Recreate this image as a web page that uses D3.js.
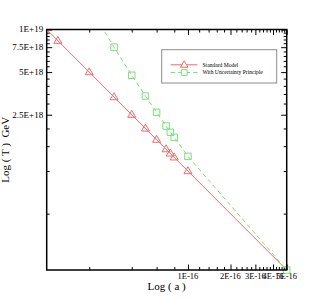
<!DOCTYPE html>
<html>
<head>
<meta charset="utf-8">
<script src="https://cdn.jsdelivr.net/npm/d3@7"></script>
<style>
html,body{margin:0;padding:0;background:#fff;}
svg{display:block;}
text{font-family:"Liberation Serif","DejaVu Serif",serif;fill:#000;}
</style>
</head>
<body>
<svg id="chart" width="322" height="299"></svg>
<script>
// ---- data ----
const xDomain = [1e-17, 5e-16];
const yDomain = [2e17, 1e19];

// Standard Model: fitted line endpoints and data points
const smLineA = [1e-17, 5e-16];
const smLineT = [1e19, 2e17];
const smA = [1.2e-17, 2e-17, 3e-17, 4e-17, 5e-17, 6e-17, 7e-17, 7.5e-17, 8e-17, 1e-16];
const smT = [8.33e18, 5e18, 3.33e18, 2.5e18, 2e18, 1.667e18, 1.429e18, 1.333e18, 1.25e18, 1e18];

// With Uncertainty Principle
const upA = [2e-17, 3e-17, 4e-17, 5e-17, 6e-17, 7e-17, 7.5e-17, 8e-17, 1e-16, 5e-16];
const upT = [1.46e19, 7.5e18, 4.75e18, 3.39e18, 2.6e18, 2.08e18, 1.88e18, 1.73e18, 1.27e18, 2e17];

const xMajorTicks = [1e-16, 2e-16, 3e-16, 4e-16, 5e-16];
const xTickLabels = ["1E-16", "2E-16", "3E-16", "4E-16", "5E-16"];
const xMinorStep = 2e-17;
const yMajorTicks = [2.5e18, 5e18, 7.5e18, 1e19];
const yTickLabels = ["2.5E+18", "5E+18", "7.5E+18", "1E+19"];
const yMinorStep = 5e17;

const seriesNames = ["Standard Model", "With Uncertainty Principle"];
const xTitle = "Log ( a )";
const yTitle = "Log ( T )\u00a0 GeV";

// ---- layout ----
const L = 46.7, R = 286.7, T = 29.5, B = 270;
const red = "#f06a6a", green = "#7ede7e";

const svg = d3.select("#chart");
const x = d3.scaleLog().domain(xDomain).range([L, R]);
const y = d3.scaleLog().domain(yDomain).range([B, T]);

svg.append("defs").append("clipPath").attr("id", "clip")
  .append("rect").attr("x", L).attr("y", T).attr("width", R - L).attr("height", B - T);

// minor tick values
const xMinor = d3.range(1, 26).map(i => i * xMinorStep)
  .filter(v => v > xDomain[0] && v <= xDomain[1] && !xMajorTicks.some(m => Math.abs(m - v) < 1e-20));
const yMinor = d3.range(1, 21).map(i => i * yMinorStep)
  .filter(v => v >= yDomain[0] && v <= yDomain[1] && !yMajorTicks.some(m => Math.abs(m - v) < 1e15));

const fmtX = d => xTickLabels[xMajorTicks.findIndex(m => Math.abs(m - d) < 1e-20)] || "";
const fmtY = d => yTickLabels[yMajorTicks.findIndex(m => Math.abs(m - d) < 1e15)] || "";

function styleAxis(g) {
  g.select(".domain").remove();
  g.selectAll("line").attr("stroke", "#000").attr("stroke-width", 1);
}

// bottom axis (ticks inward)
const gB = svg.append("g").attr("transform", `translate(0,${B})`);
gB.call(d3.axisTop(x).tickValues(xMajorTicks).tickFormat("").tickSize(5.5)).call(styleAxis);
gB.append("g").call(d3.axisTop(x).tickValues(xMinor).tickFormat("").tickSize(3)).call(styleAxis);
gB.selectAll(".xl").data(xMajorTicks).join("text").attr("class", "xl")
  .attr("x", d => x(d)).attr("y", 9.3).attr("text-anchor", "middle")
  .attr("font-size", "8.5px").text(fmtX);

// top axis
const gT = svg.append("g").attr("transform", `translate(0,${T})`);
gT.call(d3.axisBottom(x).tickValues(xMajorTicks).tickFormat("").tickSize(5.5)).call(styleAxis);
gT.append("g").call(d3.axisBottom(x).tickValues(xMinor).tickFormat("").tickSize(3)).call(styleAxis);

// left axis
const gL = svg.append("g").attr("transform", `translate(${L},0)`);
gL.call(d3.axisRight(y).tickValues(yMajorTicks).tickFormat("").tickSize(5.5)).call(styleAxis);
gL.append("g").call(d3.axisRight(y).tickValues(yMinor).tickFormat("").tickSize(3)).call(styleAxis);
gL.selectAll(".yl").data(yMajorTicks).join("text").attr("class", "yl")
  .attr("x", -3.5).attr("y", d => y(d)).attr("dy", "0.33em").attr("text-anchor", "end")
  .attr("font-size", "9px").text(fmtY);

// right axis
const gR = svg.append("g").attr("transform", `translate(${R},0)`);
gR.call(d3.axisLeft(y).tickValues(yMajorTicks).tickFormat("").tickSize(5.5)).call(styleAxis);
gR.append("g").call(d3.axisLeft(y).tickValues(yMinor).tickFormat("").tickSize(3)).call(styleAxis);

// lines
const lineGen = d3.line().x(d => x(d[0])).y(d => y(d[1]));
const plotG = svg.append("g").attr("clip-path", "url(#clip)");
plotG.append("path").datum(d3.zip(smLineA, smLineT)).attr("d", lineGen)
  .attr("fill", "none").attr("stroke", red).attr("stroke-width", 1);
plotG.append("path").datum(d3.zip(upA, upT)).attr("d", lineGen)
  .attr("fill", "none").attr("stroke", green).attr("stroke-width", 1).attr("stroke-dasharray", "4.5,3");

// markers
function triPath(s) {
  const h = s * 0.87;
  return `M0,${-h * 0.62}L${s / 2},${h * 0.38}L${-s / 2},${h * 0.38}Z`;
}
function sqPath(s) {
  return `M${-s / 2},${-s / 2}h${s}v${s}h${-s}Z`;
}
svg.append("g").selectAll("path").data(d3.zip(smA, smT)).join("path")
  .attr("transform", d => `translate(${x(d[0])},${y(d[1])})`)
  .attr("d", triPath(8)).attr("fill", "none").attr("stroke", red).attr("stroke-width", 1);
svg.append("g").selectAll("path")
  .data(d3.zip(upA, upT).filter(d => d[1] <= yDomain[1] && d[0] >= xDomain[0]))
  .join("path")
  .attr("transform", d => `translate(${x(d[0])},${y(d[1])})`)
  .attr("d", sqPath(6.5)).attr("fill", "none").attr("stroke", green).attr("stroke-width", 1);

// frame
svg.append("rect").attr("x", L).attr("y", T).attr("width", R - L).attr("height", B - T)
  .attr("fill", "none").attr("stroke", "#000").attr("stroke-width", 1.5);

// axis titles
svg.append("text").attr("x", (L + R) / 2).attr("y", 290).attr("text-anchor", "middle")
  .attr("font-size", "11px").text(xTitle);
svg.append("text").attr("transform", `translate(8.5,${(T + B) / 2}) rotate(-90)`)
  .attr("text-anchor", "middle").attr("font-size", "11px").text(yTitle);

// legend
const lg = svg.append("g");
lg.append("rect").attr("x", 161.7).attr("y", 49.7).attr("width", 115).attr("height", 33.3)
  .attr("fill", "#fff").attr("stroke", "#8c8c8c").attr("stroke-width", 1);
const legendItems = [
  { name: seriesNames[0], color: red, dash: null, marker: triPath(7.5), yy: 64.8 },
  { name: seriesNames[1], color: green, dash: "4.5,3", marker: sqPath(5.8), yy: 72.5 }
];
legendItems.forEach(it => {
  lg.append("line").attr("x1", 170.7).attr("x2", 197.5).attr("y1", it.yy).attr("y2", it.yy)
    .attr("stroke", it.color).attr("stroke-width", 1).attr("stroke-dasharray", it.dash);
  lg.append("path").attr("transform", `translate(184.2,${it.yy})`).attr("d", it.marker)
    .attr("fill", "#fff").attr("stroke", it.color).attr("stroke-width", 1);
  lg.append("text").attr("x", 202.5).attr("y", it.yy + 1.9).attr("font-size", "5.6px").text(it.name);
});
</script>
</body>
</html>
